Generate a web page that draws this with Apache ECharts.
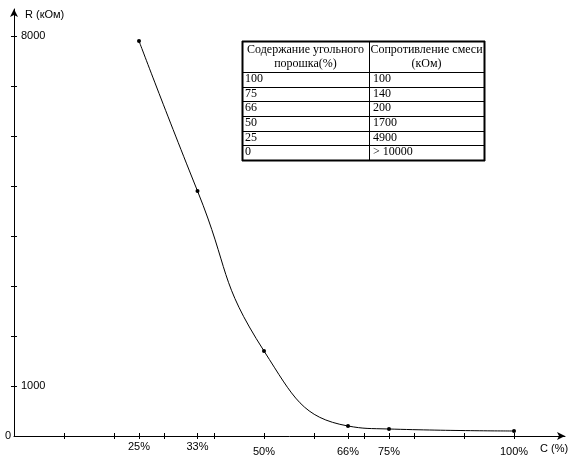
<!DOCTYPE html>
<html>
<head>
<meta charset="utf-8">
<script src="https://cdn.jsdelivr.net/npm/echarts@6/dist/echarts.min.js"></script>
<style>
html,body{margin:0;padding:0;background:#fff;}
#chart{width:573px;height:461px;}
</style>
</head>
<body>
<div id="chart"></div>
<script>
// ---- data ----
var xValues = [25, 36.7, 50, 66.8, 75, 100];          // carbon powder content (axis position)
var yValues = [7900, 4900, 1700, 200, 140, 100];      // resistance, kOhm
var xLabelValues = [25, 36.7, 50, 66.8, 75, 100];
var xLabelTexts = ['25%', '33%', '50%', '66%', '75%', '100%'];
var xTickValues = [10, 20, 25, 30, 36.7, 40, 50, 60, 66.8, 70, 75, 80, 90, 100];
var yTickValues = [1000, 2000, 3000, 4000, 5000, 6000, 7000, 8000];
var yLabelInside = [1000, 8000];
var yLabelOutside = [0];
var tableHeader = ['Содержание угольного\nпорошка(%)', 'Сопротивление смеси\n(кОм)'];
var tableCol1 = ['100', '75', '66', '50', '25', '0'];
var tableCol2 = ['100', '140', '200', '1700', '4900', '> 10000'];
var yAxisName = 'R (кОм)';
var xAxisName = 'C (%)';

// ---- build ----
var chart = echarts.init(document.getElementById('chart'));
var sans = '"Liberation Sans", Arial, sans-serif';
var serif = '"Liberation Serif", "Times New Roman", serif';
var X_MAX = 110.2, Y_MAX = 8540;

function xLabelFmt(v) {
  for (var i = 0; i < xLabelValues.length; i++) {
    if (Math.abs(xLabelValues[i] - v) < 0.01) return xLabelTexts[i];
  }
  return '';
}
function yLabelFmt(v) { return String(v); }

var upperLabels = xLabelValues.slice(0, 2);
var lowerLabels = xLabelValues.slice(2);

// table graphic
var T = {left: 242, right: 484, top: 41, head: 72, bottom: 160, mid: 369};
var rowH = (T.bottom - T.head) / tableCol1.length;
var g = [];
function hline(y, x1, x2, w) {
  g.push({type: 'line', shape: {x1: x1, y1: y, x2: x2, y2: y}, style: {stroke: '#000', lineWidth: w || 1}, silent: true});
}
function vline(x, y1, y2, w) {
  g.push({type: 'line', shape: {x1: x, y1: y1, x2: x, y2: y2}, style: {stroke: '#000', lineWidth: w || 1}, silent: true});
}
hline(T.top + 0.5, T.left, T.right + 1, 2);
hline(T.bottom + 0.5, T.left, T.right + 1, 2);
vline(T.left + 0.5, T.top, T.bottom + 1, 2);
vline(T.right + 0.5, T.top, T.bottom + 1, 2);
vline(T.mid + 0.5, T.top, T.bottom, 1);
hline(T.head + 0.5, T.left, T.right, 1);
for (var r = 1; r < tableCol1.length; r++) {
  hline(Math.round(T.head + r * rowH) + 0.5, T.left, T.right, 1);
}
g.push({type: 'text', x: (T.left + T.mid) / 2, y: (T.top + T.head) / 2 + 0.5,
  style: {text: tableHeader[0], font: '12px ' + serif, fill: '#000', align: 'center', verticalAlign: 'middle', lineHeight: 14}, silent: true});
g.push({type: 'text', x: (T.mid + T.right) / 2, y: (T.top + T.head) / 2 + 0.5,
  style: {text: tableHeader[1], font: '12px ' + serif, fill: '#000', align: 'center', verticalAlign: 'middle', lineHeight: 14}, silent: true});
for (var i = 0; i < tableCol1.length; i++) {
  var ty = Math.round(T.head + i * rowH) + 6.5;
  g.push({type: 'text', x: T.left + 3, y: ty, style: {text: tableCol1[i], font: '12px ' + serif, fill: '#000', align: 'left', verticalAlign: 'middle'}, silent: true});
  g.push({type: 'text', x: T.mid + 4, y: ty, style: {text: tableCol2[i], font: '12px ' + serif, fill: '#000', align: 'left', verticalAlign: 'middle'}, silent: true});
}
g.push({type: 'text', x: 25, y: 15, style: {text: yAxisName, font: '11px ' + sans, fill: '#000', align: 'left', verticalAlign: 'middle'}, silent: true});
g.push({type: 'text', x: 540, y: 449, style: {text: xAxisName, font: '11px ' + sans, fill: '#000', align: 'left', verticalAlign: 'middle'}, silent: true});

var axisLineBase = {show: true, lineStyle: {color: '#000', width: 1}, symbol: ['none', 'arrow'], symbolSize: [6, 8]};

chart.setOption({
  animation: false,
  backgroundColor: '#fff',
  grid: {left: 14, right: 8, top: 9, bottom: 25, containLabel: false, outerBoundsMode: 'none'},
  xAxis: [
    {type: 'value', min: 0, max: X_MAX, position: 'bottom',
      axisLine: axisLineBase,
      axisTick: {show: true, inside: true, length: 3, lineStyle: {color: '#000'}, customValues: xTickValues},
      axisLabel: {show: true, margin: 5, color: '#000', fontFamily: sans, fontSize: 11, customValues: upperLabels, formatter: xLabelFmt},
      splitLine: {show: false}},
    {type: 'value', min: 0, max: X_MAX, position: 'bottom',
      axisLine: {show: false},
      axisTick: {show: true, inside: false, length: 3, lineStyle: {color: '#000'}, customValues: xTickValues},
      axisLabel: {show: true, margin: 10, color: '#000', fontFamily: sans, fontSize: 11, customValues: lowerLabels, formatter: xLabelFmt},
      splitLine: {show: false}}
  ],
  yAxis: [
    {type: 'value', min: 0, max: Y_MAX, position: 'left',
      axisLine: axisLineBase,
      axisTick: {show: true, inside: true, length: 3, lineStyle: {color: '#000'}, customValues: yTickValues},
      axisLabel: {show: true, inside: true, margin: 7, color: '#000', fontFamily: sans, fontSize: 11, customValues: yLabelInside, formatter: yLabelFmt},
      splitLine: {show: false}},
    {type: 'value', min: 0, max: Y_MAX, position: 'left',
      axisLine: {show: false},
      axisTick: {show: true, inside: false, length: 3, lineStyle: {color: '#000'}, customValues: yTickValues},
      axisLabel: {show: true, margin: 3, color: '#000', fontFamily: sans, fontSize: 11, customValues: yLabelOutside, formatter: yLabelFmt},
      splitLine: {show: false}}
  ],
  series: [{
    type: 'line',
    xAxisIndex: 0, yAxisIndex: 0,
    data: xValues.map(function (x, i) { return [x, yValues[i]]; }),
    smooth: 0.5,
    symbol: 'circle', symbolSize: 4,
    itemStyle: {color: '#000'},
    lineStyle: {color: '#000', width: 1},
    silent: true
  }],
  graphic: g
});
</script>
</body>
</html>
